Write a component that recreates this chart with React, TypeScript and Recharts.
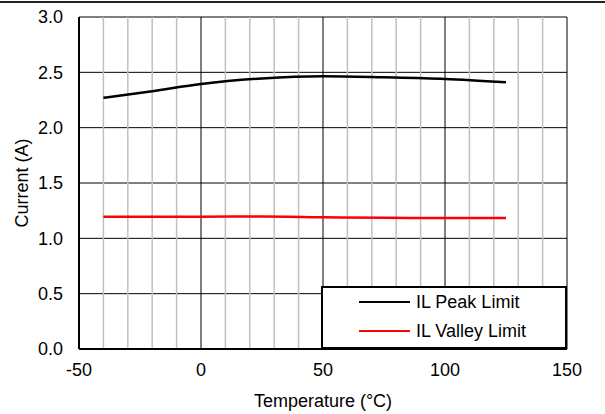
import { CartesianGrid, Line, LineChart, ReferenceLine, XAxis, YAxis } from "recharts";

const FONT = '"Liberation Sans", Arial, sans-serif';

const temps = [-40, -20, 0, 25, 50, 75, 100, 125];
const peakLimit = [2.27, 2.33, 2.395, 2.445, 2.465, 2.455, 2.44, 2.41];
const valleyLimit = [1.195, 1.195, 1.196, 1.197, 1.19, 1.185, 1.184, 1.184];

const xTicks = [-50, 0, 50, 100, 150];
const xMinor = [-40, -30, -20, -10, 10, 20, 30, 40, 60, 70, 80, 90, 110, 120, 130, 140];
const yTicks = [0, 0.5, 1, 1.5, 2, 2.5, 3];

const series = [
  { key: "peak", name: "IL Peak Limit", color: "#000000" },
  { key: "valley", name: "IL Valley Limit", color: "#ff0000" },
];

const data = temps.map((t, i) => ({ t, peak: peakLimit[i], valley: valleyLimit[i] }));

const textStyle = { fontFamily: FONT, fontSize: 18, fill: "#000" };

export default function App() {
  return (
    <div style={{ position: "absolute", left: 0, top: 0, width: 605, height: 414, background: "#fff" }}>
      <div style={{ position: "absolute", left: 0, top: 1, width: 605, height: 2, background: "#222" }} />
      <LineChart width={605} height={414} data={data} margin={{ top: 17, right: 38, left: 0, bottom: 0 }}>
        <CartesianGrid stroke="#000" strokeWidth={1} />
        {xMinor.map((v) => (
          <ReferenceLine key={v} x={v} stroke="#c0c0c0" strokeWidth={1.5} />
        ))}
        <XAxis
          dataKey="t"
          type="number"
          domain={[-50, 150]}
          ticks={xTicks}
          tickLine={false}
          tickSize={0}
          tickMargin={14}
          height={65}
          axisLine={{ stroke: "#000", strokeWidth: 2 }}
          tick={textStyle}
          label={{ value: "Temperature (°C)", position: "insideBottom", offset: 7, style: textStyle }}
        />
        <XAxis xAxisId="top" orientation="top" type="number" domain={[-50, 150]} height={0} tick={false} tickLine={false} axisLine={{ stroke: "#000", strokeWidth: 2 }} />
        <YAxis
          type="number"
          domain={[0, 3]}
          ticks={yTicks}
          tickFormatter={(v: number) => v.toFixed(1)}
          tickLine={false}
          tickSize={0}
          tickMargin={16}
          width={79}
          axisLine={{ stroke: "#000", strokeWidth: 2 }}
          tick={textStyle}
          label={{ value: "Current (A)", angle: -90, position: "insideLeft", offset: 22, style: { ...textStyle, textAnchor: "middle" } }}
        />
        <YAxis yAxisId="right" orientation="right" type="number" domain={[0, 3]} width={0} tick={false} tickLine={false} axisLine={{ stroke: "#000", strokeWidth: 2 }} />
        {series.map((s) => (
          <Line key={s.key} type="monotone" dataKey={s.key} name={s.name} stroke={s.color} strokeWidth={2.5} dot={false} isAnimationActive={false} />
        ))}
      </LineChart>
      <div
        style={{
          position: "absolute",
          left: 321,
          top: 286,
          width: 246,
          height: 63,
          boxSizing: "border-box",
          border: "2px solid #000",
          background: "#fff",
          fontFamily: FONT,
          fontSize: 18,
          color: "#000",
        }}
      >
        {series.map((s, i) => (
          <div key={s.key} style={{ position: "absolute", left: 36, top: 3 + i * 29, display: "flex", alignItems: "center", height: 22, whiteSpace: "nowrap" }}>
            <span style={{ display: "inline-block", width: 51, height: 2.5, background: s.color, marginRight: 6 }} />
            <span>{s.name}</span>
          </div>
        ))}
      </div>
    </div>
  );
}
